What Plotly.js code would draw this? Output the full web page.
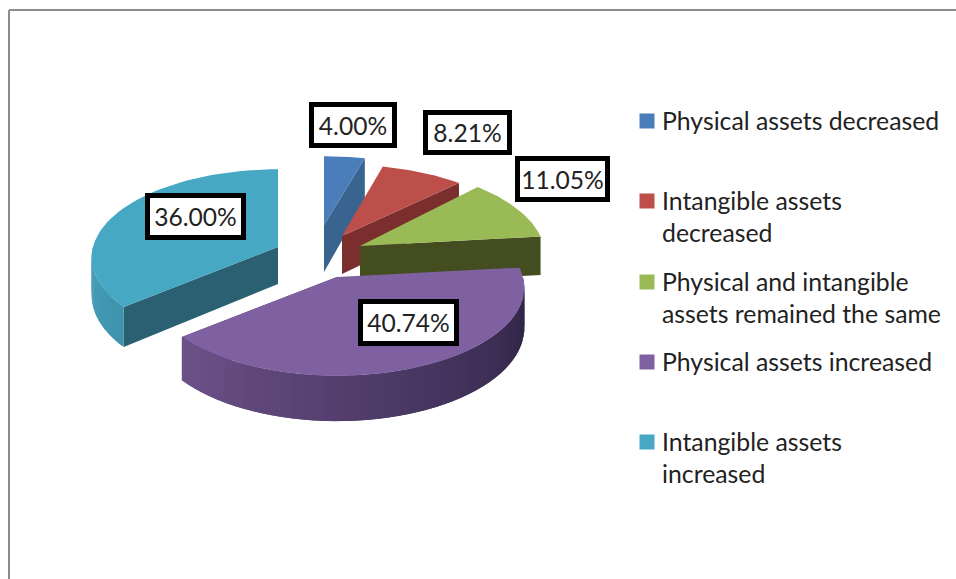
<!DOCTYPE html>
<html>
<head>
<meta charset="utf-8">
<script src="https://cdn.plot.ly/plotly-3.0.1.min.js"></script>
<style>html,body{margin:0;padding:0;background:#fff}#chart{width:956px;height:579px}</style>
</head>
<body>
<div id="chart"></div>
<script>
// ---- data ----
const categories = [
  "Physical assets decreased",
  "Intangible assets<br>decreased",
  "Physical and intangible<br>assets remained the same",
  "Physical assets increased",
  "Intangible assets<br>increased"
];
const values = [4.00, 8.21, 11.05, 40.74, 36.00];

// ---- styles ----
const topColors  = ["#4a7ebb", "#bd4f4b", "#9aba56", "#7f60a0", "#46a8c3"];
const cutColors  = ["#38648f", "#7a2f2e", "#434d20", "#4a3a5e", "#2a6072"];
const wallStops  = [null, null, null, ["#2b2240", "#4a3764", "#6d5289"], ["#3f93ad", "#4a9fba"]];
const FONT = "Lato, 'Open Sans', sans-serif";

// ---- projected pie geometry (apex = exploded slice tip) ----
const apexX  = [324, 342, 360, 337, 278];
const apexY  = [225, 236, 246, 277, 247];
const radX   = [183, 183, 184, 186, 185];
const radY   = [ 77,  80,  89,  87,  87];
const depth  = [ 47,  38,  39,  40,  37];
const PERSPECTIVE = 0.119;
const labelX = [353, 467, 562, 408, 195];
const labelY = [125, 132, 179, 322, 216];
const labelW = [78, 79, 85, 91, 91];
const labelH = [36, 35, 36, 37, 37];
const legendY = [121, 201, 282, 362, 442];
const legendSwatchX = 647, legendTextX = 662;

const traces = [];
const rad = d => d * Math.PI / 180;
const sc = a => 1 / (1 + PERSPECTIVE * Math.cos(rad(a)));
const px = (i, a) => apexX[i] + radX[i] * Math.sin(rad(a)) * sc(a);
const py = (i, a) => apexY[i] - radY[i] * Math.cos(rad(a)) * sc(a);
const pb = (i, a) => py(i, a) + depth[i] * sc(a);

function poly(xs, ys, color) {
  traces.push({
    type: "scatter", mode: "lines", x: xs.concat(xs[0]), y: ys.concat(ys[0]),
    fill: "toself", fillcolor: color, line: {color: color, width: 0},
    hoverinfo: "skip", showlegend: false
  });
}
function mix(c1, c2, t) {
  const p = c => [1, 3, 5].map(k => parseInt(c.substr(k, 2), 16));
  const a = p(c1), b = p(c2);
  return "rgb(" + a.map((v, k) => Math.round(v + (b[k] - v) * t)).join(",") + ")";
}

// slice angles from the values, clockwise from the top
const total = values.reduce((s, v) => s + v, 0);
const starts = [];
values.reduce((s, v, i) => { starts[i] = s; return s + v / total * 360; }, 0);
const ends = values.map((v, i) => starts[i] + v / total * 360);

// back to front
[0, 1, 2, 4, 3].forEach(i => {
  const a0 = starts[i], a1 = ends[i];
  // cut face towards the viewer
  const cutA = (a0 + a1) / 2 < 180 ? a1 : a0;
  poly([apexX[i], px(i, cutA), px(i, cutA), apexX[i]],
       [apexY[i], py(i, cutA), pb(i, cutA), apexY[i] + depth[i]], cutColors[i]);
  // outer wall with gradient: each band overlaps the next one, painted in order
  if (wallStops[i]) {
    const from = Math.max(a0, 90), to = Math.min(a1, 270), n = 48;
    for (let k = 0; k < n; k++) {
      const b0 = from + (to - from) * k / n, b1 = from + (to - from) * Math.min(k + 2, n) / n;
      const bm = (b0 + b1) / 2;
      const s = wallStops[i], t = (k + 0.5) / n * (s.length - 1), j = Math.min(Math.floor(t), s.length - 2);
      poly([px(i, b0), px(i, bm), px(i, b1), px(i, b1), px(i, bm), px(i, b0)],
           [py(i, b0), py(i, bm), py(i, b1), pb(i, b1), pb(i, bm), pb(i, b0)], mix(s[j], s[j + 1], t - j));
    }
  }
  // top face
  const xs = [apexX[i]], ys = [apexY[i]];
  for (let k = 0; k <= 48; k++) {
    const a = a0 + (a1 - a0) * k / 48;
    xs.push(px(i, a)); ys.push(py(i, a));
  }
  poly(xs, ys, topColors[i]);
});

// legend swatches
categories.forEach((c, i) => traces.push({
  type: "scatter", mode: "markers", x: [legendSwatchX], y: [legendY[i]], name: c.replace("<br>", " "),
  marker: {symbol: "square", size: 15, color: topColors[i]}, hoverinfo: "name", showlegend: false
}));

const annotations = [];
categories.forEach((c, i) => annotations.push({
  x: legendTextX, y: legendY[i] - 15, xref: "x", yref: "y", xanchor: "left", yanchor: "top",
  text: c, showarrow: false, align: "left", borderpad: 0, borderwidth: 0,
  font: {family: FONT, size: 24.8, color: "#222222"}
}));
values.forEach((v, i) => annotations.push({
  x: labelX[i], y: labelY[i], xref: "x", yref: "y", xanchor: "center", yanchor: "middle",
  text: v.toFixed(2) + "%", showarrow: false, bgcolor: "#ffffff", bordercolor: "#000000",
  borderwidth: 5, borderpad: 0, width: labelW[i], height: labelH[i], valign: "middle",
  font: {family: FONT, size: 24.6, color: "#222222"}
}));

const layout = {
  width: 956, height: 579, margin: {l: 0, r: 0, t: 0, b: 0},
  paper_bgcolor: "#ffffff", plot_bgcolor: "#ffffff", showlegend: false,
  xaxis: {range: [0, 956], visible: false, fixedrange: true},
  yaxis: {range: [579, 0], visible: false, fixedrange: true},
  annotations: annotations,
  shapes: [
    {type: "line", xref: "paper", yref: "paper", x0: 9/956, x1: 1, y0: 1 - 10/579, y1: 1 - 10/579, line: {color: "#8c8c8c", width: 2}},
    {type: "line", xref: "paper", yref: "paper", x0: 9/956, x1: 9/956, y0: 1 - 10/579, y1: 0, line: {color: "#8c8c8c", width: 2}}
  ]
};
Plotly.newPlot("chart", traces, layout, {displayModeBar: false, staticPlot: true});
</script>
</body>
</html>
